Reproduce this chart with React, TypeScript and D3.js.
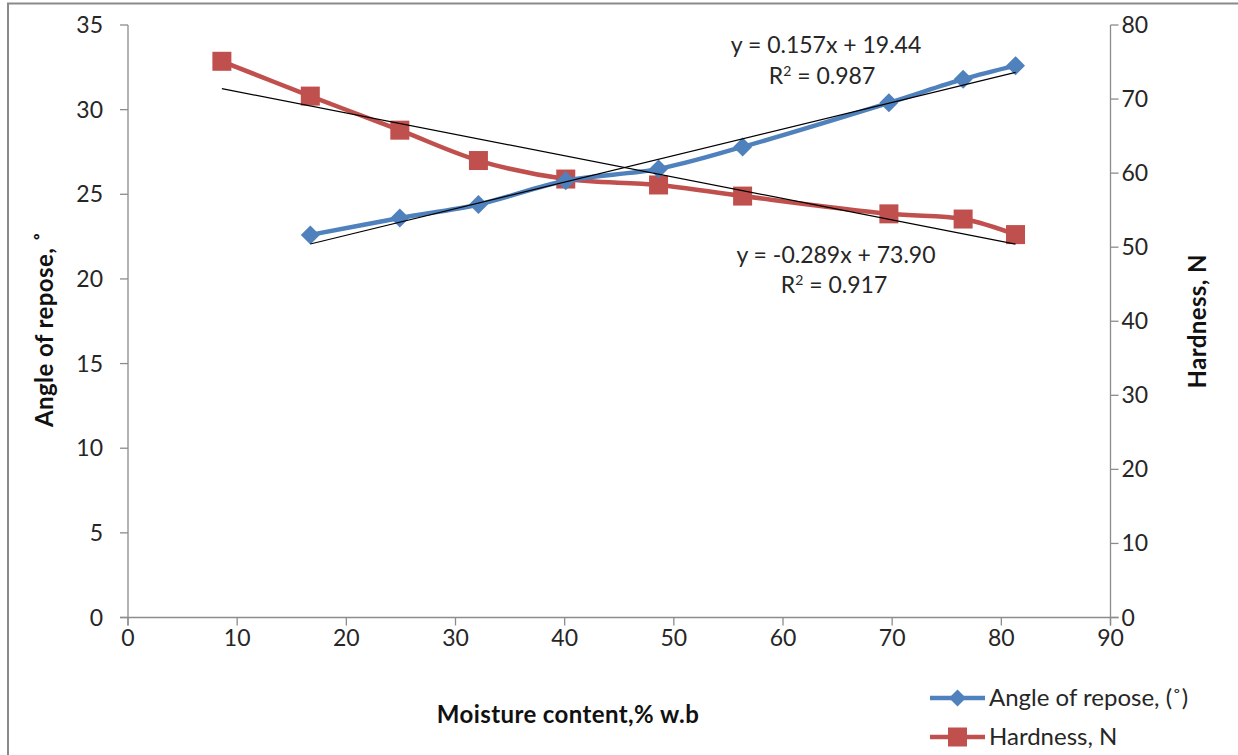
import React from "react";
import * as d3 from "d3";

const angleMoisture = [16.7, 24.9, 32.1, 40.1, 48.6, 56.3, 69.7, 76.5, 81.3];
const angleOfRepose = [22.6, 23.6, 24.4, 25.8, 26.5, 27.8, 30.4, 31.8, 32.6];
const hardnessMoisture = [8.6, 16.7, 24.9, 32.1, 40.1, 48.6, 56.3, 69.7, 76.5, 81.3];
const hardness = [75.1, 70.4, 65.8, 61.7, 59.2, 58.4, 56.9, 54.5, 53.8, 51.7];

const angleTrend = { slope: 0.157, intercept: 19.44, label: "y = 0.157x + 19.44", r2: "0.987" };
const hardnessTrend = { slope: -0.289, intercept: 73.9, label: "y = -0.289x + 73.90", r2: "0.917" };

const xTicks = [0, 10, 20, 30, 40, 50, 60, 70, 80, 90];
const leftTicks = [0, 5, 10, 15, 20, 25, 30, 35];
const rightTicks = [0, 10, 20, 30, 40, 50, 60, 70, 80];

const BLUE = "#4F81BD";
const RED = "#C0504D";
const AXIS = "#8c8c8c";
const FONT = "Lato, 'Open Sans', sans-serif";
const TXT = "#262626";

export default function App() {
  const W = 1238, H = 755;
  const left = 128, right = 1110.5, top = 25, bottom = 617.5;
  const x = d3.scaleLinear().domain([0, 90]).range([left, right]);
  const yL = d3.scaleLinear().domain([0, 35]).range([bottom, top]);
  const yR = d3.scaleLinear().domain([0, 80]).range([bottom, top]);

  const angleData = angleMoisture.map((m, i) => [m, angleOfRepose[i]] as [number, number]);
  const hardData = hardnessMoisture.map((m, i) => [m, hardness[i]] as [number, number]);

  const lineL = d3.line<[number, number]>().x(d => x(d[0])).y(d => yL(d[1])).curve(d3.curveCatmullRom.alpha(0.5));
  const lineR = d3.line<[number, number]>().x(d => x(d[0])).y(d => yR(d[1])).curve(d3.curveCatmullRom.alpha(0.5));

  const aMin = d3.min(angleMoisture)!, aMax = d3.max(angleMoisture)!;
  const hMin = d3.min(hardnessMoisture)!, hMax = d3.max(hardnessMoisture)!;

  const diamond = (cx: number, cy: number, r: number) =>
    `M${cx},${cy - r}L${cx + r},${cy}L${cx},${cy + r}L${cx - r},${cy}Z`;

  const tickFs = 23;
  const titleFs = 24;

  return (
    <svg width={W} height={H} style={{ position: "absolute", left: 0, top: 0, background: "#fff" }} fontFamily={FONT}>
      <rect x={8} y={3.5} width={W + 10} height={H + 10} fill="#fff" stroke="#8a8a8a" strokeWidth={2} />

      {/* axes */}
      <line x1={left} y1={top} x2={left} y2={bottom + 8} stroke={AXIS} strokeWidth={1.3} />
      <line x1={right} y1={top} x2={right} y2={bottom + 8} stroke={AXIS} strokeWidth={1.3} />
      <line x1={left - 8} y1={bottom} x2={right + 8} y2={bottom} stroke={AXIS} strokeWidth={1.3} />
      {leftTicks.map(t => (
        <g key={"l" + t}>
          <line x1={left - 8} x2={left} y1={yL(t)} y2={yL(t)} stroke={AXIS} strokeWidth={1.3} />
          <text x={left - 25} y={yL(t)} dy="0.35em" textAnchor="end" fontSize={tickFs} fill={TXT}>{t}</text>
        </g>
      ))}
      {rightTicks.map(t => (
        <g key={"r" + t}>
          <line x1={right} x2={right + 8} y1={yR(t)} y2={yR(t)} stroke={AXIS} strokeWidth={1.3} />
          <text x={right + 11} y={yR(t)} dy="0.35em" textAnchor="start" fontSize={tickFs} fill={TXT}>{t}</text>
        </g>
      ))}
      {xTicks.map(t => (
        <g key={"x" + t}>
          <line x1={x(t)} x2={x(t)} y1={bottom} y2={bottom + 8} stroke={AXIS} strokeWidth={1.3} />
          <text x={x(t)} y={bottom + 20} dy="0.35em" textAnchor="middle" fontSize={tickFs} fill={TXT}>{t}</text>
        </g>
      ))}

      {/* titles */}
      <text x={568} y={715} dy="0.35em" textAnchor="middle" fontSize={titleFs} fontWeight="bold" letterSpacing={0.4} fill="#111">Moisture content,% w.b</text>
      <text transform={`translate(45,${(top + bottom) / 2 + 8}) rotate(-90)`} dy="0.35em" textAnchor="middle" fontSize={titleFs} fontWeight="bold" letterSpacing={0.4} fill="#111">Angle of repose, ˚</text>
      <text transform={`translate(1198,${(top + bottom) / 2}) rotate(-90)`} dy="0.35em" textAnchor="middle" fontSize={titleFs} fontWeight="bold" letterSpacing={0.4} fill="#111">Hardness, N</text>

      {/* series */}
      <path d={lineR(hardData)!} fill="none" stroke={RED} strokeWidth={4.5} strokeLinejoin="round" />
      {hardData.map((d, i) => (
        <rect key={"hm" + i} x={x(d[0]) - 9.5} y={yR(d[1]) - 9.5} width={19} height={19} fill={RED} />
      ))}
      <path d={lineL(angleData)!} fill="none" stroke={BLUE} strokeWidth={4.5} strokeLinejoin="round" />
      {angleData.map((d, i) => (
        <path key={"am" + i} d={diamond(x(d[0]), yL(d[1]), 9.5)} fill={BLUE} />
      ))}

      {/* trendlines */}
      <line x1={x(aMin)} y1={yL(angleTrend.slope * aMin + angleTrend.intercept)} x2={x(aMax)} y2={yL(angleTrend.slope * aMax + angleTrend.intercept)} stroke="#000" strokeWidth={1.2} />
      <line x1={x(hMin)} y1={yR(hardnessTrend.slope * hMin + hardnessTrend.intercept)} x2={x(hMax)} y2={yR(hardnessTrend.slope * hMax + hardnessTrend.intercept)} stroke="#000" strokeWidth={1.2} />

      {/* equations */}
      <text x={826} y={45} dy="0.35em" textAnchor="middle" fontSize={23} fill={TXT}>{angleTrend.label}</text>
      <text x={822} y={76} dy="0.35em" textAnchor="middle" fontSize={23} fill={TXT}>R<tspan dy="-8" fontSize={14}>2</tspan><tspan dy="8"> = {angleTrend.r2}</tspan></text>
      <text x={836} y={255} dy="0.35em" textAnchor="middle" fontSize={23} fill={TXT}>{hardnessTrend.label}</text>
      <text x={834} y={285} dy="0.35em" textAnchor="middle" fontSize={23} fill={TXT}>R<tspan dy="-8" fontSize={14}>2</tspan><tspan dy="8"> = {hardnessTrend.r2}</tspan></text>

      {/* legend */}
      <line x1={930} x2={985} y1={698} y2={698} stroke={BLUE} strokeWidth={4.5} />
      <path d={diamond(957.5, 698, 8.5)} fill={BLUE} />
      <text x={989} y={698} dy="0.35em" fontSize={24} fill={TXT}>Angle of repose, (˚)</text>
      <line x1={930} x2={985} y1={737} y2={737} stroke={RED} strokeWidth={4.5} />
      <rect x={948} y={727.5} width={19} height={19} fill={RED} />
      <text x={989} y={737} dy="0.35em" fontSize={24} fill={TXT}>Hardness, N</text>
    </svg>
  );
}
